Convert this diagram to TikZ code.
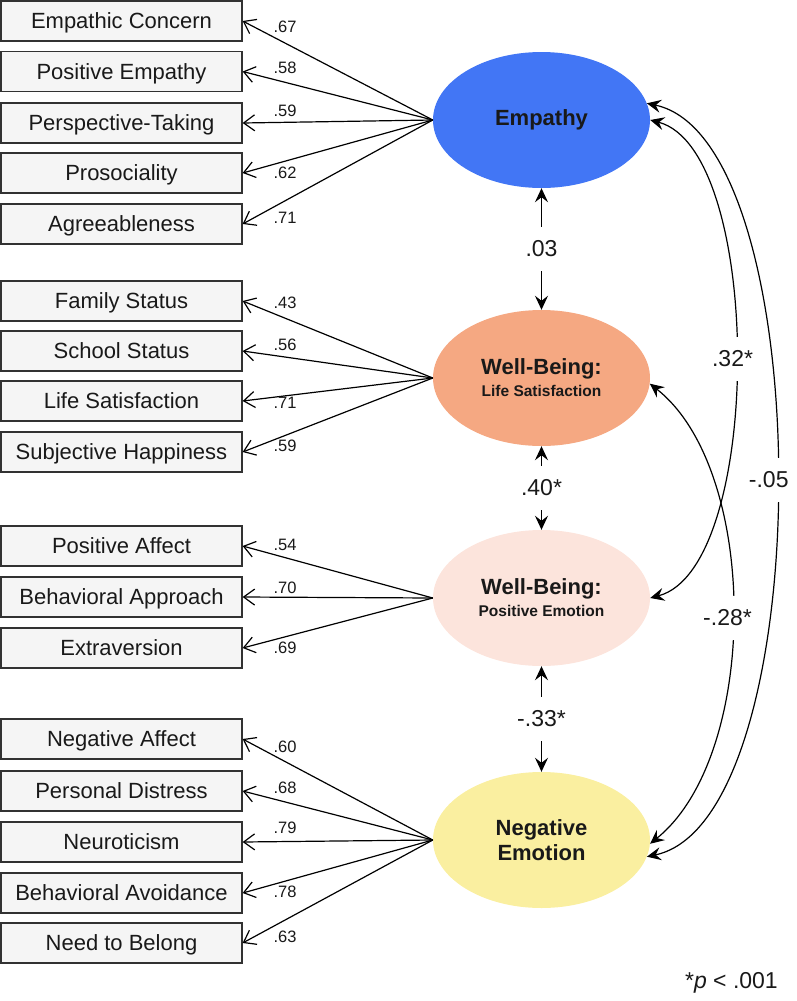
\documentclass[tikz,border=0pt]{standalone}
\usepackage{fontspec}
\setmainfont{Liberation Sans}
\usetikzlibrary{arrows.meta,shapes.geometric}
\definecolor{empblue}{RGB}{66,118,245}
\definecolor{lsorange}{RGB}{245,168,130}
\definecolor{pepink}{RGB}{252,228,220}
\definecolor{neyellow}{RGB}{250,239,160}
\definecolor{boxfill}{RGB}{245,245,245}
\definecolor{boxline}{RGB}{50,50,50}
\begin{document}
\begin{tikzpicture}[x=1pt,y=-1pt,
  ind/.style={draw=boxline, line width=1.3pt, fill=boxfill, minimum width=241pt, minimum height=40pt, inner sep=0pt, text height=15.8pt, text depth=0pt, font=\fontsize{22}{26}\selectfont, text=black!90},
  lat/.style={ellipse, minimum width=217pt, minimum height=136pt, inner sep=0pt, align=center, font=\bfseries\fontsize{22}{22}\selectfont, text=black!90},
  ldg/.style={font=\fontsize{16.5}{18}\selectfont, inner sep=0pt, text height=11.8pt, text depth=0pt, text=black!90},
  load/.style={-{Straight Barb[length=11pt,width=16pt]}, line width=1.2pt},
  cov/.style={{Stealth[length=14pt,width=13pt,inset=5pt]}-{Stealth[length=14pt,width=13pt,inset=5pt]}, line width=1.2pt},
  clbl/.style={fill=white, font=\fontsize{23}{26}\selectfont, inner xsep=2pt, inner ysep=0pt, minimum height=44pt, text=black!90},
]
\useasboundingbox (0,0) rectangle (796,1001);

% latent variables
\node[lat, fill=empblue] (emp) at (541.5,120) {Empathy};
\node[lat, fill=lsorange] (ls) at (541.5,378) {Well-Being:\\{\fontsize{15.5}{22}\selectfont Life Satisfaction}};
\node[lat, fill=pepink] (pe) at (541.5,598) {Well-Being:\\{\fontsize{15.5}{22}\selectfont Positive Emotion}};
\node[lat, fill=neyellow, font=\bfseries\fontsize{22}{25}\selectfont] (ne) at (541.5,840) {Negative\\Emotion};

% indicators
\node[ind] (b1) at (121.5,21) {Empathic Concern};
\node[ind] (b2) at (121.5,71.5) {Positive Empathy};
\node[ind] (b3) at (121.5,123) {Perspective-Taking};
\node[ind] (b4) at (121.5,173) {Prosociality};
\node[ind] (b5) at (121.5,224) {Agreeableness};
\node[ind] (b6) at (121.5,301) {Family Status};
\node[ind] (b7) at (121.5,351) {School Status};
\node[ind] (b8) at (121.5,401) {Life Satisfaction};
\node[ind] (b9) at (121.5,452) {Subjective Happiness};
\node[ind] (b10) at (121.5,546) {Positive Affect};
\node[ind] (b11) at (121.5,597) {Behavioral Approach};
\node[ind] (b12) at (121.5,648) {Extraversion};
\node[ind] (b13) at (121.5,739) {Negative Affect};
\node[ind] (b14) at (121.5,791) {Personal Distress};
\node[ind] (b15) at (121.5,842) {Neuroticism};
\node[ind] (b16) at (121.5,893) {Behavioral Avoidance};
\node[ind] (b17) at (121.5,943) {Need to Belong};

% loadings
\foreach \b in {b1,b2,b3,b4,b5} \draw[load] (emp.west) -- (\b.east);
\foreach \b in {b6,b7,b8,b9} \draw[load] (ls.west) -- (\b.east);
\foreach \b in {b10,b11,b12} \draw[load] (pe.west) -- (\b.east);
\foreach \b in {b13,b14,b15,b16,b17} \draw[load] (ne.west) -- (\b.east);

\node[ldg] (l1) at (285,27) {.67};
\node[ldg] (l2) at (285,68) {.58};
\node[ldg] (l3) at (285,111) {.59};
\node[ldg] (l4) at (285,173) {.62};
\node[ldg] (l5) at (285,218) {.71};
\node[ldg] (l6) at (285,303) {.43};
\node[ldg] (l7) at (285,345) {.56};
\node[ldg] (l8) at (285,403) {.71};
\node[ldg] (l9) at (285,446) {.59};
\node[ldg] (l10) at (285,545) {.54};
\node[ldg] (l11) at (285,588) {.70};
\node[ldg] (l12) at (285,648) {.69};
\node[ldg] (l13) at (285,747) {.60};
\node[ldg] (l14) at (285,788) {.68};
\node[ldg] (l15) at (285,828) {.79};
\node[ldg] (l16) at (285,892) {.78};
\node[ldg] (l17) at (285,937) {.63};

% correlations between adjacent latents
\draw[cov] (emp) -- (ls) node[midway, clbl] (c1) {.03};
\draw[cov] (ls) -- (pe) node[midway, clbl] (c2) {.40*};
\draw[cov] (pe) -- (ne) node[midway, clbl] (c3) {-.33*};

% curved correlations
\draw[cov] (emp.9) .. controls (820,140) and (820,820) .. (ne.-9)
  node[pos=.5, clbl, xshift=-8pt] (c4) {-.05};
\draw[cov] (emp.0) .. controls (764,150) and (764,568) .. (pe.0)
  node[pos=.5, clbl, xshift=-3pt] (c5) {.32*};
\draw[cov] (ls.-3) .. controls (760,470) and (760,755) .. (ne.-2)
  node[pos=.5, clbl, xshift=-5pt, yshift=-5pt] (c6) {-.28*};

% footnote
\node[anchor=east, font=\fontsize{23}{26}\selectfont, inner sep=0pt, text=black!90] (note) at (778,983) {*\textit{p} < .001};
\end{tikzpicture}
\end{document}
